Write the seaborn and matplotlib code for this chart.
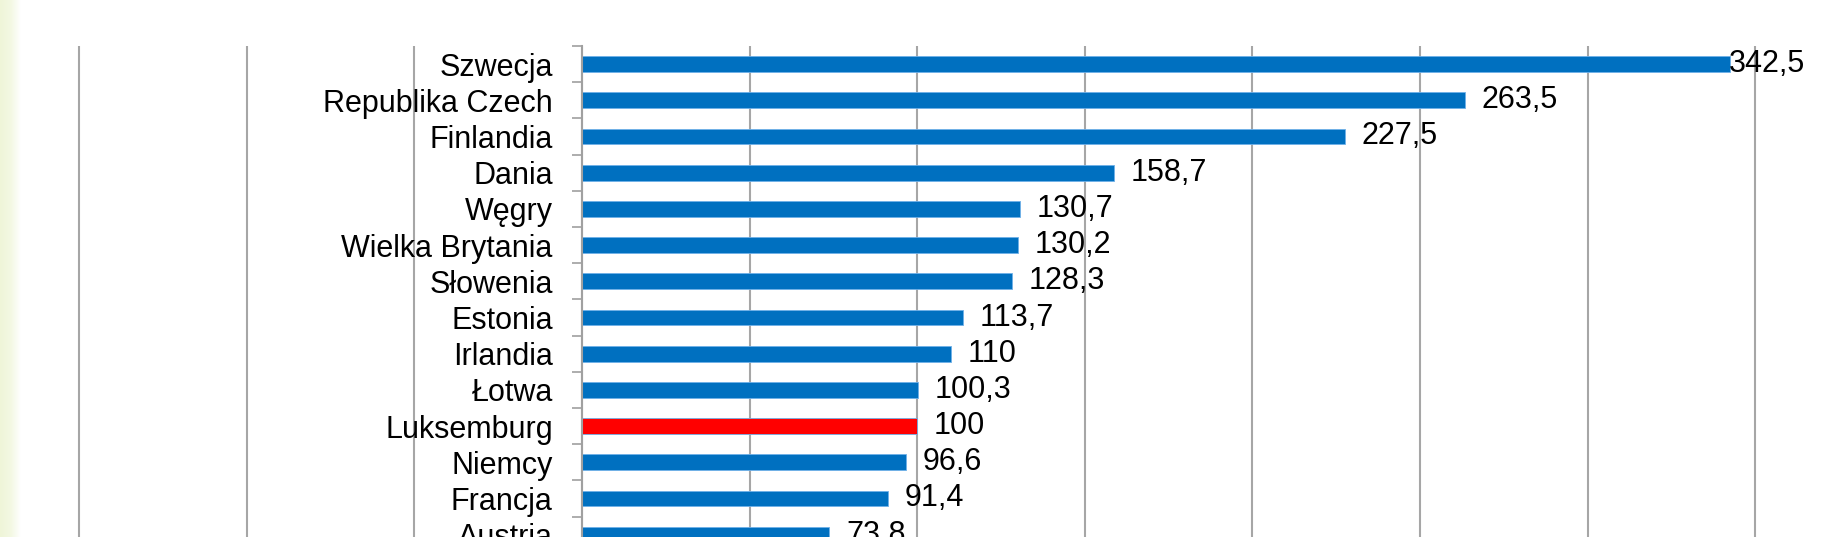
import numpy as np
import pandas as pd
import matplotlib
matplotlib.use("Agg")
import matplotlib.pyplot as plt
import seaborn as sns
from matplotlib.colors import LinearSegmentedColormap

categories = ["Szwecja", "Republika Czech", "Finlandia", "Dania", "Węgry",
              "Wielka Brytania", "Słowenia", "Estonia", "Irlandia", "Łotwa",
              "Luksemburg", "Niemcy", "Francja", "Austria"]
values = [342.5, 263.5, 227.5, 158.7, 130.7, 130.2, 128.3, 113.7, 110, 100.3,
          100, 96.6, 91.4, 73.8]
highlight = "Luksemburg"
grid_ticks = list(range(-150, 351, 50))

plt.rcParams['font.family'] = ['Liberation Sans', 'DejaVu Sans']

W, H = 1828, 537
fig = plt.figure(figsize=(W / 100, H / 100), dpi=100)
fig.patch.set_facecolor("white")

# faint yellowish strip at the left edge
bg = fig.add_axes([0, 0, 21 / W, 1])
cmap = LinearSegmentedColormap.from_list("strip", ["#EFF5D8", "#F3F8E2", "#FFFFFF"])
bg.imshow(np.linspace(0, 1, 50)[None, :], aspect="auto", cmap=cmap, extent=[0, 1, 0, 1])
bg.axis("off")

top_px = 46
ax = fig.add_axes([0, 0, 1, (H - top_px) / H])
ax.set_facecolor("none")

df = pd.DataFrame({"kraj": categories, "wartosc": values})
colors = {c: ("#FF0000" if c == highlight else "#0070C0") for c in categories}
sns.barplot(data=df, x="wartosc", y="kraj", hue="kraj", palette=colors,
            orient="h", width=0.44, legend=False, ax=ax,
            edgecolor="#6FB0E8", linewidth=0.6, saturation=1)

ax.set_xticks(grid_ticks)
ax.set_yticks(np.arange(-0.5, len(categories), 1), minor=True)

ax.set_xlim(-173.6, 371.7)
row_px = 36.2
ax.set_ylim(-0.5 + (H - top_px) / row_px, -0.5)

ax.grid(axis="x", color="#A6A6A6", linewidth=1.5)
ax.grid(axis="y", visible=False)
ax.set_axisbelow(True)
ax.tick_params(axis="x", length=0, labelbottom=False)

ax.spines["left"].set_position(("data", 0))
ax.spines["left"].set_color("#A0A0A0")
ax.spines["left"].set_linewidth(1.5)
for s in ["top", "right", "bottom"]:
    ax.spines[s].set_visible(False)

ax.tick_params(axis="y", which="major", length=0, pad=21, labelsize=22, labelcolor="black")
ax.tick_params(axis="y", which="minor", length=7.2, width=1.2, color="#A0A0A0", direction="out")
ax.set_xlabel("")
ax.set_ylabel("")

for i, v in enumerate(values):
    label = f"{v:g}".replace(".", ",")
    off = 12 if v < 320 else -1
    ax.annotate(label, xy=(v, i), xytext=(off, 0), textcoords="offset points",
                ha="left", va="center", fontsize=22, color="black")

fig.savefig("out.png", dpi=100)
